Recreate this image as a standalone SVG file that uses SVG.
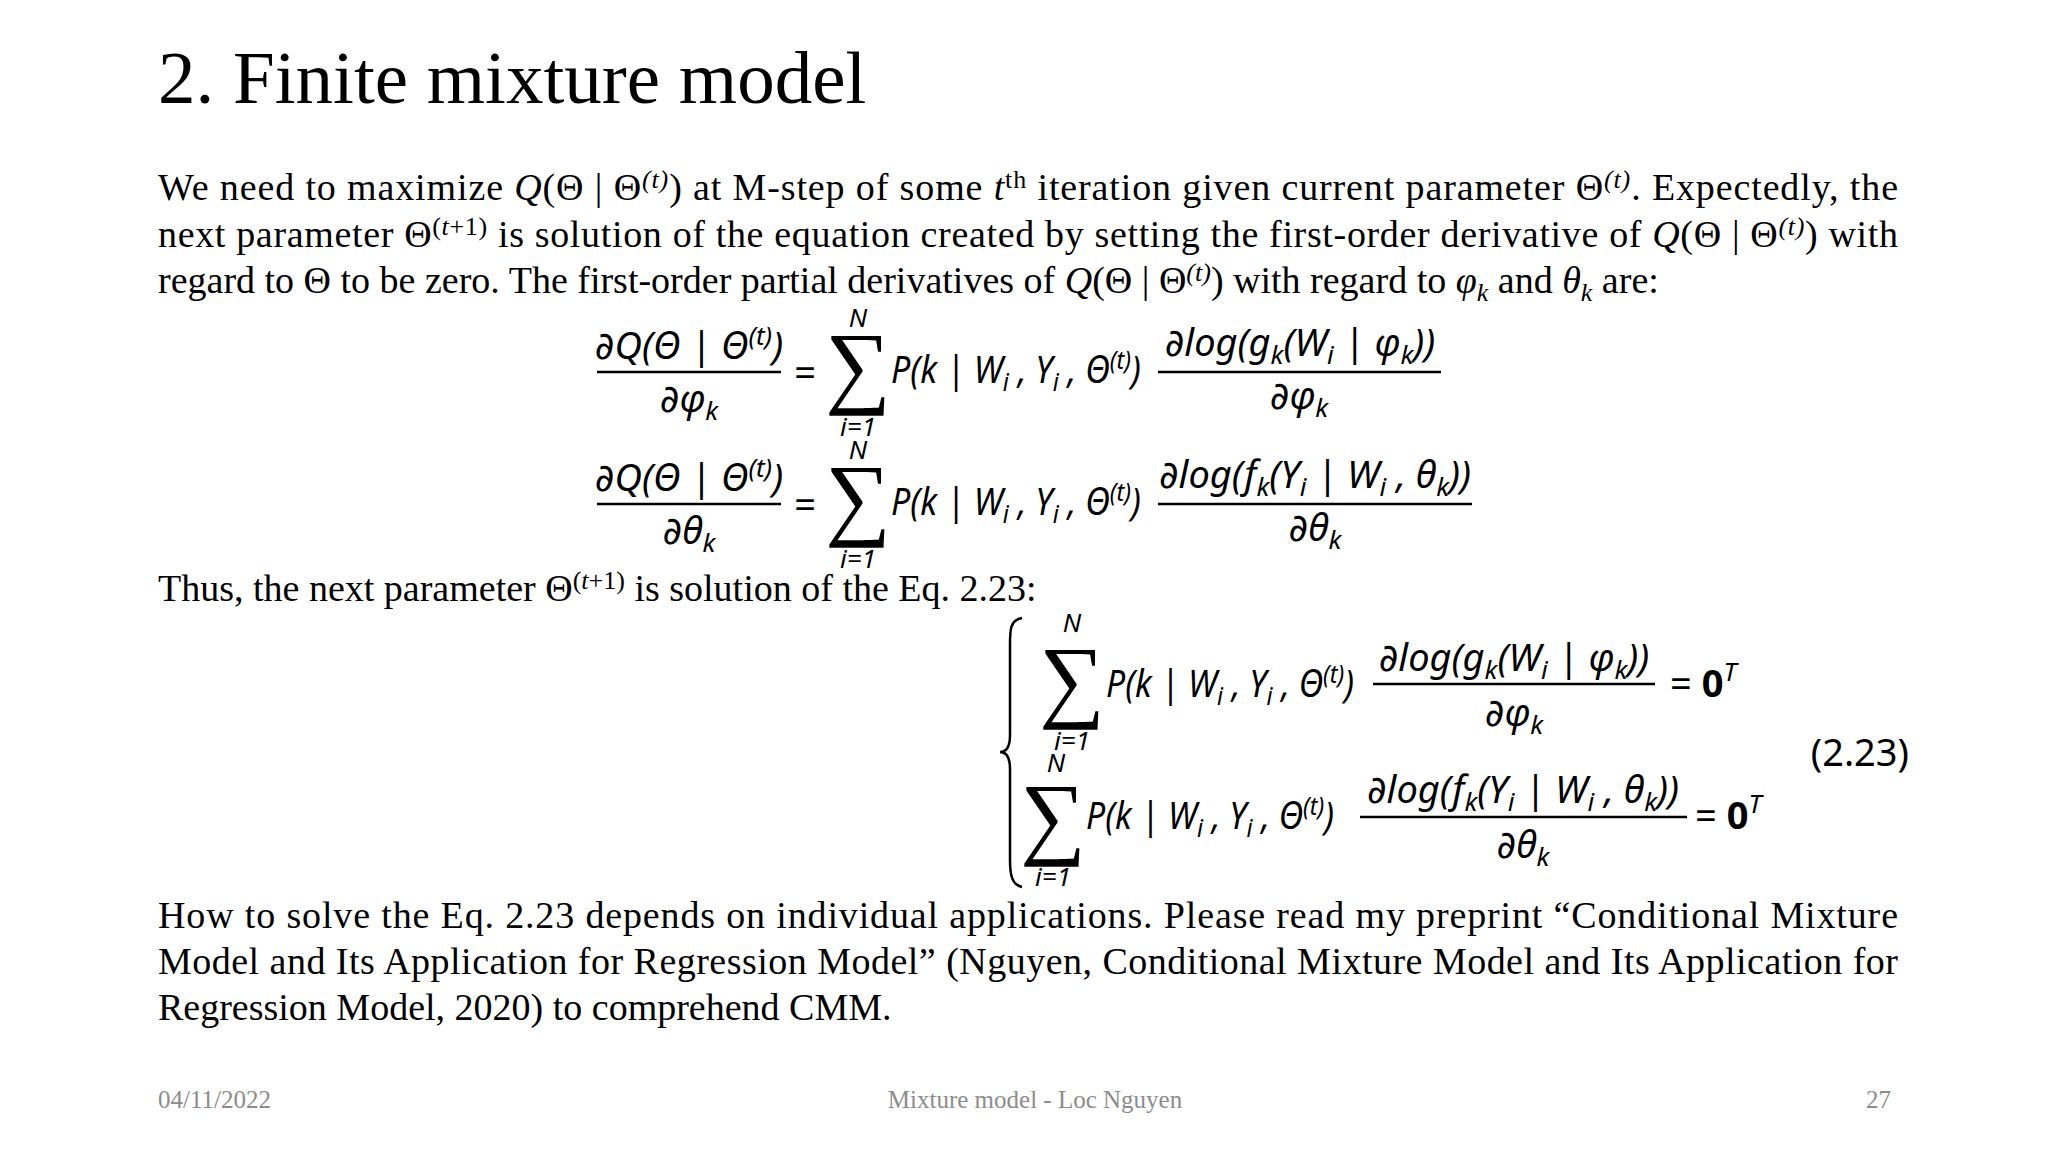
<svg xmlns="http://www.w3.org/2000/svg" width="2048" height="1152" viewBox="0 0 2048 1152">
<style>
.t{font-family:"Liberation Serif","Times New Roman",serif;fill:#000}
.b{font-size:38px}
.m{font-family:"Noto Sans","DejaVu Sans",sans-serif;font-style:italic;font-size:38px;fill:#000}
.u{font-style:normal}
.s{font-size:26px}
.big{font-family:"Liberation Serif",serif;font-size:92px;font-style:normal}
.bar{stroke:#000;stroke-width:2.5}
.f{font-family:"Liberation Serif",serif;font-size:25px;fill:#8c8c8c}
</style>
<rect width="2048" height="1152" fill="#fff"/>
<g id="title"><text class="t" x="158" y="103" font-size="75">2. Finite mixture model</text></g>
<g id="para1" class="t b">
<text x="158" y="200" textLength="1740" lengthAdjust="spacing">We need to maximize <tspan font-style="italic">Q</tspan>(Θ | Θ<tspan class="s" dy="-12" font-style="italic">(t)</tspan><tspan dy="12">) at M-step of some </tspan><tspan font-style="italic">t</tspan><tspan class="s" dy="-12">th</tspan><tspan dy="12"> iteration given current parameter Θ</tspan><tspan class="s" dy="-12" font-style="italic">(t)</tspan><tspan dy="12">. Expectedly, the</tspan></text>
<text x="158" y="247" textLength="1740" lengthAdjust="spacing">next parameter Θ<tspan class="s" dy="-12">(<tspan font-style="italic">t</tspan>+1)</tspan><tspan dy="12"> is solution of the equation created by setting the first-order derivative of </tspan><tspan font-style="italic">Q</tspan>(Θ | Θ<tspan class="s" dy="-12" font-style="italic">(t)</tspan><tspan dy="12">) with</tspan></text>
<text x="158" y="293">regard to Θ to be zero. The first-order partial derivatives of <tspan font-style="italic">Q</tspan>(Θ | Θ<tspan class="s" dy="-12" font-style="italic">(t)</tspan><tspan dy="12">) with regard to </tspan><tspan font-style="italic">φ</tspan><tspan class="s" dy="8" font-style="italic">k</tspan><tspan dy="-8"> and </tspan><tspan font-style="italic">θ</tspan><tspan class="s" dy="8" font-style="italic">k</tspan><tspan dy="-8"> are:</tspan></text>
</g>
<g id="eq1">
<text class="m" x="689" y="359" text-anchor="middle">∂Q(Θ | Θ<tspan class="s" dy="-14">(t)</tspan><tspan dy="14">)</tspan></text>
<line class="bar" x1="597" y1="372" x2="781" y2="372"/>
<text class="m" x="689" y="412" text-anchor="middle">∂φ<tspan class="s" dy="8">k</tspan></text>
<text class="m u" x="805" y="386" text-anchor="middle">=</text>
<text class="m big" x="858" y="396" text-anchor="middle">∑</text>
<text class="m s" x="858" y="327" text-anchor="middle">N</text>
<text class="m s" x="858" y="436" text-anchor="middle">i=1</text>
<text class="m" x="891" y="383" textLength="250" lengthAdjust="spacingAndGlyphs">P(k | W<tspan class="s" dy="8">i</tspan><tspan dy="-8"> , Y</tspan><tspan class="s" dy="8">i</tspan><tspan dy="-8"> , Θ</tspan><tspan class="s" dy="-14">(t)</tspan><tspan dy="14">)</tspan></text>
<text class="m" x="1300" y="356" text-anchor="middle">∂log(g<tspan class="s" dy="8">k</tspan><tspan dy="-8">(W</tspan><tspan class="s" dy="8">i</tspan><tspan dy="-8"> | φ</tspan><tspan class="s" dy="8">k</tspan><tspan dy="-8">))</tspan></text>
<line class="bar" x1="1158" y1="372" x2="1441" y2="372"/>
<text class="m" x="1299" y="409" text-anchor="middle">∂φ<tspan class="s" dy="8">k</tspan></text>
</g>
<g id="eq2">
<text class="m" x="689" y="491" text-anchor="middle">∂Q(Θ | Θ<tspan class="s" dy="-14">(t)</tspan><tspan dy="14">)</tspan></text>
<line class="bar" x1="597" y1="504" x2="781" y2="504"/>
<text class="m" x="689" y="544" text-anchor="middle">∂θ<tspan class="s" dy="8">k</tspan></text>
<text class="m u" x="805" y="518" text-anchor="middle">=</text>
<text class="m big" x="858" y="528" text-anchor="middle">∑</text>
<text class="m s" x="858" y="459" text-anchor="middle">N</text>
<text class="m s" x="858" y="568" text-anchor="middle">i=1</text>
<text class="m" x="891" y="515" textLength="250" lengthAdjust="spacingAndGlyphs">P(k | W<tspan class="s" dy="8">i</tspan><tspan dy="-8"> , Y</tspan><tspan class="s" dy="8">i</tspan><tspan dy="-8"> , Θ</tspan><tspan class="s" dy="-14">(t)</tspan><tspan dy="14">)</tspan></text>
<text class="m" x="1315" y="488" text-anchor="middle">∂log(f<tspan class="s" dy="8">k</tspan><tspan dy="-8">(Y</tspan><tspan class="s" dy="8">i</tspan><tspan dy="-8"> | W</tspan><tspan class="s" dy="8">i</tspan><tspan dy="-8"> , θ</tspan><tspan class="s" dy="8">k</tspan><tspan dy="-8">))</tspan></text>
<line class="bar" x1="1158" y1="504" x2="1472" y2="504"/>
<text class="m" x="1315" y="541" text-anchor="middle">∂θ<tspan class="s" dy="8">k</tspan></text>
</g>
<g id="thus"><text class="t b" x="158" y="601">Thus, the next parameter Θ<tspan class="s" dy="-12">(<tspan font-style="italic">t</tspan>+1)</tspan><tspan dy="12"> is solution of the Eq. 2.23:</tspan></text></g>
<g id="eq223">
<path d="M1022,618 C1010,620 1010,630 1010,645 L1010,735 C1010,748 1006,752 1000,752 C1006,752 1010,756 1010,769 L1010,860 C1010,875 1012,885 1022,887" fill="none" stroke="#000" stroke-width="2.5"/>
<text class="m big" x="1072" y="710" text-anchor="middle">∑</text>
<text class="m s" x="1072" y="632" text-anchor="middle">N</text>
<text class="m s" x="1072" y="750" text-anchor="middle">i=1</text>
<text class="m" x="1106" y="697" textLength="248" lengthAdjust="spacingAndGlyphs">P(k | W<tspan class="s" dy="8">i</tspan><tspan dy="-8"> , Y</tspan><tspan class="s" dy="8">i</tspan><tspan dy="-8"> , Θ</tspan><tspan class="s" dy="-14">(t)</tspan><tspan dy="14">)</tspan></text>
<text class="m" x="1514" y="671" text-anchor="middle">∂log(g<tspan class="s" dy="8">k</tspan><tspan dy="-8">(W</tspan><tspan class="s" dy="8">i</tspan><tspan dy="-8"> | φ</tspan><tspan class="s" dy="8">k</tspan><tspan dy="-8">))</tspan></text>
<line class="bar" x1="1373" y1="684" x2="1655" y2="684"/>
<text class="m" x="1514" y="726" text-anchor="middle">∂φ<tspan class="s" dy="8">k</tspan></text>
<text class="m u" x="1670" y="697">= <tspan font-weight="bold">0</tspan><tspan class="s" dy="-16" font-style="italic">T</tspan></text>
<text class="m big" x="1053" y="847" text-anchor="middle">∑</text>
<text class="m s" x="1056" y="772" text-anchor="middle">N</text>
<text class="m s" x="1053" y="886" text-anchor="middle">i=1</text>
<text class="m" x="1086" y="829" textLength="248" lengthAdjust="spacingAndGlyphs">P(k | W<tspan class="s" dy="8">i</tspan><tspan dy="-8"> , Y</tspan><tspan class="s" dy="8">i</tspan><tspan dy="-8"> , Θ</tspan><tspan class="s" dy="-14">(t)</tspan><tspan dy="14">)</tspan></text>
<text class="m" x="1523" y="803" text-anchor="middle">∂log(f<tspan class="s" dy="8">k</tspan><tspan dy="-8">(Y</tspan><tspan class="s" dy="8">i</tspan><tspan dy="-8"> | W</tspan><tspan class="s" dy="8">i</tspan><tspan dy="-8"> , θ</tspan><tspan class="s" dy="8">k</tspan><tspan dy="-8">))</tspan></text>
<line class="bar" x1="1360" y1="817" x2="1687" y2="817"/>
<text class="m" x="1523" y="858" text-anchor="middle">∂θ<tspan class="s" dy="8">k</tspan></text>
<text class="m u" x="1695" y="829">= <tspan font-weight="bold">0</tspan><tspan class="s" dy="-16" font-style="italic">T</tspan></text>
<text class="m u" x="1909" y="766" text-anchor="end">(2.23)</text>
</g>
<g id="para2" class="t b">
<text x="158" y="928" textLength="1740" lengthAdjust="spacing">How to solve the Eq. 2.23 depends on individual applications. Please read my preprint “Conditional Mixture</text>
<text x="158" y="974" textLength="1740" lengthAdjust="spacing">Model and Its Application for Regression Model” (Nguyen, Conditional Mixture Model and Its Application for</text>
<text x="158" y="1020">Regression Model, 2020) to comprehend CMM.</text>
</g>
<g id="footer">
<text class="f" x="158" y="1108">04/11/2022</text>
<text class="f" x="1035" y="1108" text-anchor="middle">Mixture model - Loc Nguyen</text>
<text class="f" x="1891" y="1108" text-anchor="end">27</text>
</g>
</svg>
